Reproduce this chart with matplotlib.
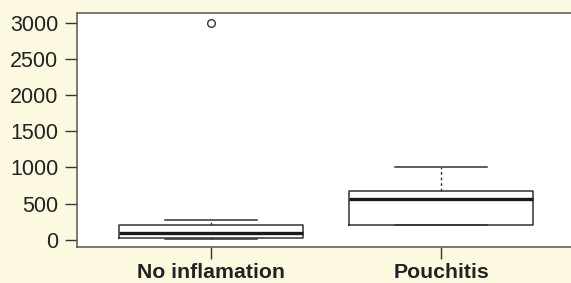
import matplotlib
matplotlib.use("Agg")
import matplotlib.pyplot as plt

# values
groups = ["No inflamation", "Pouchitis"]
q1 = [28, 203]
medians = [97, 563]
q3 = [207, 677]
whisker_low = [15, 203]
whisker_high = [277, 1009]
outliers = [[3000], []]

y_ticks = [0, 500, 1000, 1500, 2000, 2500, 3000]

BG = "#fdf9e1"
EDGE = "#333333"

plt.rcParams["font.family"] = ["Liberation Sans", "DejaVu Sans"]

fig = plt.figure(figsize=(5.71, 2.83), dpi=100, facecolor=BG)
ax = fig.add_axes([0.1349, 0.1272, 0.872, 0.8269])
ax.set_facecolor("white")

stats = []
for i, name in enumerate(groups):
    stats.append({
        "label": name,
        "q1": q1[i], "med": medians[i], "q3": q3[i],
        "whislo": whisker_low[i], "whishi": whisker_high[i],
        "fliers": outliers[i],
    })

ax.bxp(stats, positions=[1, 2], widths=0.8,
       boxprops=dict(color=EDGE, linewidth=1.1),
       medianprops=dict(color="#1a1a1a", linewidth=2.4),
       whiskerprops=dict(color=EDGE, linewidth=1.0, linestyle=(0, (2, 2))),
       capprops=dict(color=EDGE, linewidth=1.1),
       capwidths=0.4,
       flierprops=dict(marker="o", markersize=5.5, markerfacecolor="none",
                       markeredgecolor=EDGE, markeredgewidth=1.0))

ax.set_xlim(0.42, 2.58)
ax.set_ylim(-100, 3135)
ax.set_yticks(y_ticks)
ax.set_yticklabels([str(v) for v in y_ticks], fontsize=15.5, color="#222222")
ax.set_xticks([1, 2])
ax.set_xticklabels(groups, fontsize=15.3, fontweight="bold", color="#222222")

ax.tick_params(axis="both", direction="out", length=8.5, width=1.0,
               color="#333333")
ax.tick_params(axis="y", pad=5)
ax.tick_params(axis="x", pad=3)

for side in ["left", "bottom", "top", "right"]:
    ax.spines[side].set_color("#555555")
    ax.spines[side].set_linewidth(1.1)

fig.savefig("out.png", dpi=100, facecolor=BG)
